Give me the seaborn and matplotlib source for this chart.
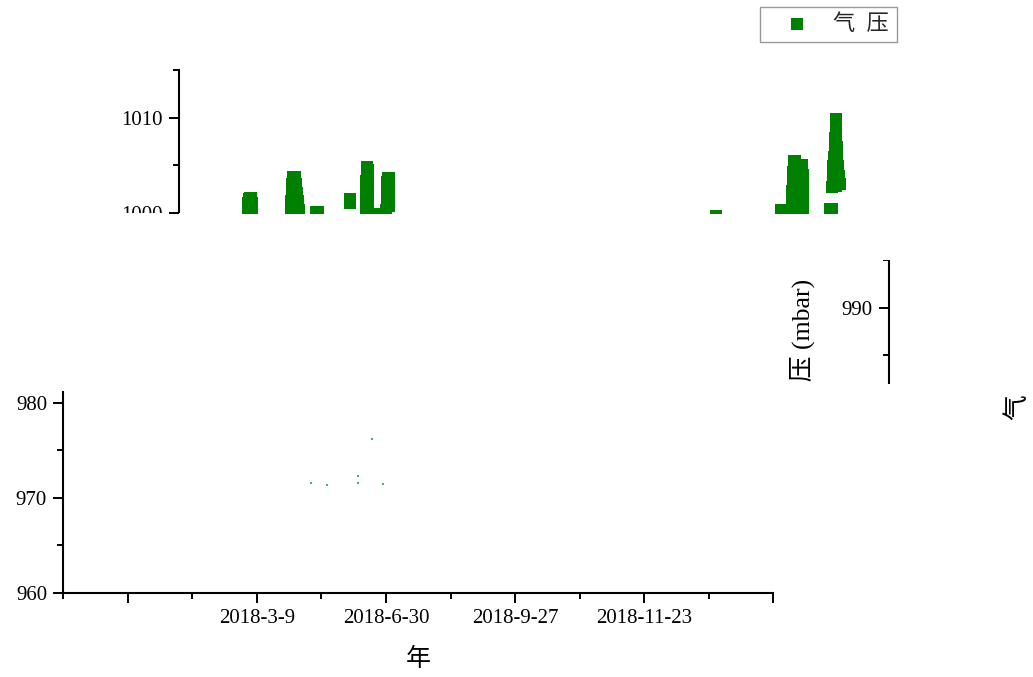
import matplotlib
matplotlib.use("Agg")
import matplotlib.pyplot as plt
from matplotlib.transforms import Bbox
from matplotlib.text import Text
from matplotlib.ticker import FixedLocator, FixedFormatter, MultipleLocator
import numpy as np
import pandas as pd
import seaborn as sns

# ---------------- data ----------------
sample_index = [
    35, 35, 42, 50, 60, 65, 65,
    366, 428, 370, 424, 375, 418, 380, 410, 384, 393, 402, 395, 395,
    560, 578,
    830, 830,
    947, 947, 950, 953, 956, 960, 965, 965, 965, 965, 965,
    1041,
    1107, 1109, 1111, 1114, 1118, 1125, 1125, 1125, 1125,
    3660,
    4167, 4252, 4252, 4254, 4256, 4258, 4262, 4275, 4300, 4330,
    4333, 4335, 4335, 4335, 4335, 4295, 4295,
    4545, 4560,
    4589, 4589, 4585, 4592, 4580, 4595, 4575, 4600, 4570, 4605,
    4565, 4612, 4560, 4590, 4620,
]
pressure_mbar = [
    1000.3, 1001.0, 1001.4, 1001.6, 1001.6, 1001.0, 1000.3,
    1000.3, 1000.3, 1001.2, 1001.2, 1002.1, 1002.1, 1003.0, 1003.0, 1003.8, 1003.8, 1003.8, 1002.5, 1001.3,
    1000.1, 1000.1,
    1001.0, 1001.45,
    1000.3, 1001.3, 1002.3, 1003.3, 1004.3, 1004.8, 1004.5, 1003.5, 1002.5, 1001.5, 1000.5,
    999.9,
    1000.3, 1001.3, 1002.3, 1003.2, 1003.7, 1003.7, 1002.7, 1001.7, 1000.7,
    999.63,
    1000.3, 1000.3, 1001.3, 1002.3, 1003.3, 1004.3, 1005.4, 1005.4, 1005.0, 1005.0,
    1004.0, 1003.0, 1002.0, 1001.0, 1000.3, 1003.0, 1001.5,
    1000.37, 1000.37,
    1009.9, 1008.9, 1007.9, 1007.9, 1006.9, 1006.9, 1005.9, 1005.9, 1004.9, 1004.9,
    1003.9, 1003.9, 1002.7, 1002.8, 1003.0,
]
faint_index = [1421, 1545, 1785, 1785, 1979, 1893]
faint_pressure = [971.5, 971.3, 971.6, 972.3, 971.4, 976.2]

tick_index = [0, 1000, 2000, 3000, 4000, 5000]
tick_labels = ["", "2018-3-9", "2018-6-30", "2018-9-27", "2018-11-23", ""]
series_name = "气  压"
x_title = "年"
y_title = "气  压 (mbar)"

# ---------------- style ----------------
W, H, DPI = 1033, 677, 100
sns.set_style("ticks")
plt.rcParams["font.family"] = ["Liberation Serif", "Noto Sans CJK SC"]
plt.rcParams["axes.unicode_minus"] = False

fig = plt.figure(figsize=(W / DPI, H / DPI), dpi=DPI, facecolor="white")

df = pd.DataFrame({"idx": sample_index, "p": pressure_mbar})
df_faint = pd.DataFrame({"idx": faint_index, "p": faint_pressure})

GREEN = "#008000"
AX_LEFT, AX_BOTTOM_Y, AX_W, AX_H = 63.3, 592.7, 710.0, 522.5


def make_copy(shift_px, show_legend):
    ax = fig.add_axes([(AX_LEFT + shift_px) / W, (H - AX_BOTTOM_Y) / H,
                       AX_W / W, AX_H / H])
    ax.set_facecolor("none")
    sns.scatterplot(data=df, x="idx", y="p", marker="s", s=63, color=GREEN,
                    linewidth=0, label=series_name, ax=ax, legend=False)
    sns.scatterplot(data=df_faint, x="idx", y="p", marker="s", s=3,
                    color="#4fb04f", linewidth=0, ax=ax, legend=False)
    ax.set_xlim(-500, 5000)
    ax.set_ylim(960, 1015)
    ax.xaxis.set_major_locator(FixedLocator(tick_index))
    ax.xaxis.set_major_formatter(FixedFormatter(tick_labels))
    ax.xaxis.set_minor_locator(MultipleLocator(500))
    ax.yaxis.set_major_locator(MultipleLocator(10))
    ax.yaxis.set_minor_locator(MultipleLocator(5))
    for side in ("top", "right"):
        ax.spines[side].set_visible(False)
    for side in ("left", "bottom"):
        ax.spines[side].set_linewidth(1.5)
        ax.spines[side].set_color("black")
    ax.tick_params(which="major", length=7.2, width=1.4, color="black",
                   labelsize=15, labelcolor="black", pad=4.5, direction="out")
    ax.tick_params(which="minor", length=4.3, width=1.4, color="black",
                   direction="out")
    ax.set_xlabel(x_title, fontsize=18, color="black")
    ax.set_ylabel(y_title, fontsize=18.5, color="black")
    ax.xaxis.set_label_coords(0.5, (AX_BOTTOM_Y - 659) / AX_H)
    ax.xaxis.label.set_va("center")
    ax.yaxis.set_label_coords((-23 - AX_LEFT) / AX_W, (AX_BOTTOM_Y - 349) / AX_H)
    ax.yaxis.label.set_va("center")
    ax.grid(False)
    if show_legend:
        leg = ax.legend(loc="upper right",
                        bbox_to_anchor=((781 - AX_LEFT) / AX_W, (AX_BOTTOM_Y - 7) / AX_H),
                        borderaxespad=0, fontsize=16, frameon=True, fancybox=False,
                        framealpha=1, edgecolor="#999999", borderpad=0.33,
                        handlelength=2.63, handletextpad=0.33)
        leg.get_frame().set_linewidth(1.0)
    return ax


def band(top_px, bottom_px):
    return Bbox.from_extents(0, H - bottom_px, W, H - top_px)


copies = [
    (make_copy(115.5, True), band(0, 213)),
    (make_copy(825.5, False), band(260, 384)),
    (make_copy(0.0, False), band(391, H)),
    (make_copy(1040.0, False), band(391, H)),
]

fig.canvas.draw()
renderer = fig.canvas.get_renderer()
for ax, clip in copies:
    for art in ax.findobj():
        if art is ax:
            continue
        art.set_clip_box(clip)
        art.set_clip_on(True)
    # texts that fall completely outside their band are not shown at all
    for txt in ax.findobj(Text):
        if not txt.get_visible() or not txt.get_text():
            continue
        bb = txt.get_window_extent(renderer)
        inter = Bbox.intersection(bb, clip)
        if inter is None or inter.width < 1 or inter.height < 1:
            txt.set_visible(False)

fig.savefig("out.png", dpi=DPI, facecolor="white")
